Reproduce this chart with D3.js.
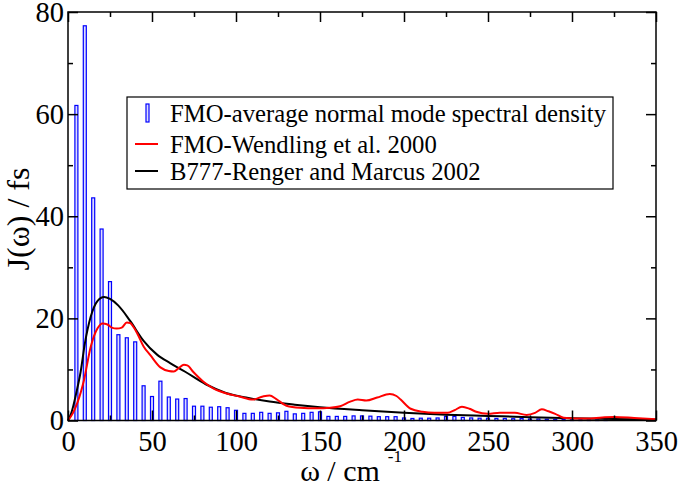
<!DOCTYPE html>
<html><head><meta charset="utf-8">
<script src="https://cdn.jsdelivr.net/npm/d3@7"></script>
</head><body style="margin:0"><svg id="c" width="679" height="489" font-family="Liberation Serif"></svg>
<script>
const barW = [5,10,15,20,25,30,35,40,45,50,55,60,65,70,75,80,85,90,95,100,105,110,115,120,125,130,135,140,145,150,155,160,165,170,175,180,185,190,195,200,205,210,215,220,225,230,235,240,245,250,255,260,265,270,275,280,285,290,295,300,305,310,315,320];
const barJ = [61.7,77.3,43.6,37.5,27.2,16.8,16.2,15.4,6.8,4.7,7.7,4.6,4.2,4.3,2.8,2.8,2.6,2.7,2.5,2.0,1.4,1.4,1.6,1.4,1.5,1.8,1.3,1.4,1.6,1.7,0.8,0.8,0.8,0.9,0.9,0.85,0.75,0.75,0.75,0.5,0.4,0.45,0.45,0.5,0.8,0.8,0.6,0.5,0.45,0.45,0.4,0.4,0.35,0.4,0.3,0.3,0.25,0.2,0.2,0.15,0.12,0.1,0.1,0.1];
const redW = [0,3,5.5,9.5,13.5,17.5,20.5,23.5,26,29,32,35,37,39,41.3,45,49,55,60,63,66,69,71,74.6,80.6,86.5,94.4,102,110,116,120,124,130,138,148,156,162,168,172.5,177.5,184,191.5,195.5,198,204,211,218,226,230,234.5,239,243,250,257,266,273,278,282,286,290,295,302,309,318,325,337,350];
const redJ = [0,1.5,3.4,7.9,14.4,18,19,18.8,18.2,18,18.2,19.2,19.1,18.3,17,14.5,12.8,10.4,9.7,9.6,10.3,10.9,10.8,9.5,7.6,6.3,5.3,4.7,4.1,4.7,4.9,4.2,2.9,2.5,2.4,2.5,2.8,3.7,4.1,3.9,4.5,5.2,4.8,4.1,2.3,1.7,1.5,1.5,2.0,2.7,2.3,1.7,1.3,1.5,1.5,1.1,1.5,2.2,1.8,1.3,0.55,0.4,0.4,0.6,0.7,0.5,0.25];
const blackW = [0,2,5,7.5,10,13.5,17.5,21.5,25,30,37,45,53,61,70,82,94,106,120,135,150,175,200,225,250,275,300,325,350];
const blackJ = [0,1.5,5.5,9.5,15,20.3,23.4,24.2,23.8,22.5,19.5,15.6,12.9,11.2,9.5,7.1,5.4,4.5,3.7,3.1,2.6,2.0,1.5,1.15,0.9,0.65,0.45,0.3,0.2];
const xMajor = [0,50,100,150,200,250,300,350];
const xMinor = [25,75,125,175,225,275,325];
const yMajor = [0,20,40,60,80];
const yMinor = [10,30,50,70];
const legendLabels = ["FMO-average normal mode spectral density","FMO-Wendling et al. 2000","B777-Renger and Marcus 2002"];

const FF="Liberation Serif";
const L=68,R=656,T=12,B=420.5;
const svg=d3.select("#c");
const x=d3.scaleLinear().domain([0,350]).range([L,R]);
const y=d3.scaleLinear().domain([0,80]).range([B,T]);
const bw=3;

const plot=svg.append("g");
plot.selectAll("rect.bar").data(barW.map((w,i)=>[w,barJ[i]])).enter().append("rect")
  .attr("x",d=>x(d[0])-bw/2).attr("width",bw)
  .attr("y",d=>y(d[1])).attr("height",d=>B-y(d[1]))
  .attr("fill","#dcdcff").attr("stroke","#0000ff").attr("stroke-width",1.2);

const line=d3.line().x(d=>x(d[0])).y(d=>y(d[1])).curve(d3.curveMonotoneX);
plot.append("path").attr("d",line(blackW.map((w,i)=>[w,blackJ[i]]))).attr("fill","none").attr("stroke","#000").attr("stroke-width",2);
plot.append("path").attr("d",line(redW.map((w,i)=>[w,redJ[i]]))).attr("fill","none").attr("stroke","#ff0000").attr("stroke-width",2);

svg.append("rect").attr("x",L).attr("y",T).attr("width",R-L).attr("height",B-T).attr("fill","none").attr("stroke","#000").attr("stroke-width",1.5);

const fs=28.5;
const gxb=svg.append("g").attr("transform",`translate(0,${B})`).call(d3.axisBottom(x).tickValues(xMajor).tickSize(-10).tickPadding(10).tickFormat(d3.format("d")));
svg.append("g").attr("transform",`translate(0,${B})`).call(d3.axisBottom(x).tickValues(xMinor).tickSize(-5).tickFormat(""));
svg.append("g").attr("transform",`translate(0,${T})`).call(d3.axisTop(x).tickValues(xMajor).tickSize(-10).tickFormat(""));
svg.append("g").attr("transform",`translate(0,${T})`).call(d3.axisTop(x).tickValues(xMinor).tickSize(-5).tickFormat(""));
svg.append("g").attr("transform",`translate(${L},0)`).call(d3.axisLeft(y).tickValues(yMajor).tickSize(-10).tickPadding(4).tickFormat(d3.format("d")));
svg.append("g").attr("transform",`translate(${L},0)`).call(d3.axisLeft(y).tickValues(yMinor).tickSize(-5).tickFormat(""));
svg.append("g").attr("transform",`translate(${R},0)`).call(d3.axisRight(y).tickValues(yMajor).tickSize(-10).tickFormat(""));
svg.append("g").attr("transform",`translate(${R},0)`).call(d3.axisRight(y).tickValues(yMinor).tickSize(-5).tickFormat(""));
svg.selectAll(".domain").remove();
svg.selectAll("g").attr("font-family",FF);
svg.selectAll(".tick line").attr("stroke","#000").attr("stroke-width",1.5);
svg.selectAll(".tick text").attr("font-size",fs).attr("fill","#000").attr("font-family",FF);
gxb.selectAll(".tick text").attr("dy","0.71em");

const xt=svg.append("text").attr("font-family",FF).attr("x",340).attr("y",481).attr("text-anchor","middle").attr("font-size",30).text("ω / cm");
const xtEnd=340+xt.node().getComputedTextLength()/2;
svg.append("text").attr("font-family",FF).attr("x",xtEnd+8).attr("y",462).attr("text-anchor","start").attr("font-size",17).text("-1");
svg.append("text").attr("font-family",FF).attr("transform","translate(29,219) rotate(-90)").attr("text-anchor","middle").attr("font-size",32).text("J(ω) / fs");

const lg=svg.append("g");
lg.append("rect").attr("x",127).attr("y",97).attr("width",486).attr("height",92).attr("fill","#fff").attr("stroke","#000").attr("stroke-width",1.2);
const rows=[113,144,171];
lg.append("rect").attr("x",146).attr("y",rows[0]-9).attr("width",3).attr("height",18).attr("fill","#dcdcff").attr("stroke","#0000ff").attr("stroke-width",1.2);
lg.append("line").attr("x1",135).attr("x2",158).attr("y1",rows[1]).attr("y2",rows[1]).attr("stroke","#ff0000").attr("stroke-width",2);
lg.append("line").attr("x1",135).attr("x2",158).attr("y1",rows[2]).attr("y2",rows[2]).attr("stroke","#000").attr("stroke-width",2);
legendLabels.forEach((t,i)=>{
  lg.append("text").attr("font-family",FF).attr("x",170).attr("y",rows[i]).attr("dy","0.35em").attr("font-size",24.7).text(t);
});
</script></body></html>
